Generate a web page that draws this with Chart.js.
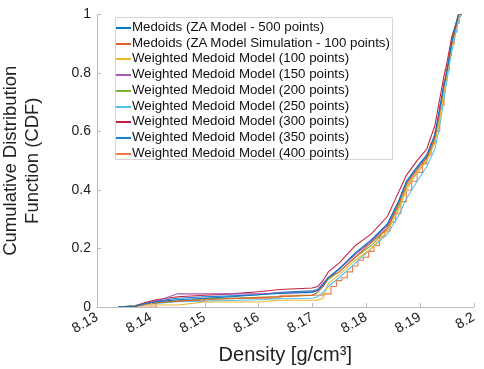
<!DOCTYPE html>
<html>
<head>
<meta charset="utf-8">
<script src="https://cdn.jsdelivr.net/npm/chart.js@4"></script>
<style>
  html, body { margin: 0; padding: 0; background: #fff; }
  #wrap { position: relative; width: 484px; height: 369px; }
  #legend {
    position: absolute; left: 115px; top: 17px; width: 278px; height: 143px;
    border: 1px solid #d6d6d6; background: #fff; box-sizing: border-box;
    font-family: "Liberation Sans", Arial, sans-serif; font-size: 13.3px; color: #111;
  }
  #legend .row { position: absolute; left: 16px; height: 16px; line-height: 16px; white-space: nowrap; }
  #legend .sw { position: absolute; left: 0; width: 15px; height: 2px; }
</style>
</head>
<body>
<div id="wrap">
  <canvas id="grafico-cdf" width="484" height="369"></canvas>
  <div id="legend"></div>
</div>
<script>
// Densidades (eixo x) compartilhadas
const densidade = [8.1339, 8.1370, 8.1390, 8.1410, 8.1450, 8.1500, 8.1550, 8.1600, 8.1640, 8.1700,
  8.1710, 8.1720, 8.1730, 8.1750, 8.1780, 8.1810, 8.1840, 8.1860, 8.1875, 8.1895,
  8.1913, 8.1928, 8.1937, 8.1945, 8.1950, 8.1959, 8.1972, 8.1978];

const medoids500 = [0, 0.003, 0.012, 0.018, 0.025, 0.030, 0.035, 0.042, 0.046, 0.050,
  0.056, 0.075, 0.10, 0.13, 0.185, 0.23, 0.285, 0.36, 0.43, 0.48,
  0.52, 0.59, 0.68, 0.76, 0.80, 0.90, 1, 1];
const medoidsSim100 = [0, 0.002, 0.010, 0.015, 0.020, 0.025, 0.028, 0.032, 0.035, 0.040,
  0.050, 0.070, 0.10, 0.12, 0.17, 0.22, 0.27, 0.35, 0.42, 0.47,
  0.51, 0.58, 0.67, 0.76, 0.81, 0.90, 1, 1];
const weighted100 = [0, 0.005, 0.007, 0.007, 0.007, 0.017, 0.017, 0.017, 0.023, 0.023,
  0.023, 0.030, 0.08, 0.11, 0.16, 0.20, 0.26, 0.33, 0.40, 0.46,
  0.50, 0.56, 0.64, 0.74, 0.79, 0.89, 0.99, 1];
const weighted150 = [0, 0.003, 0.012, 0.020, 0.045, 0.045, 0.045, 0.045, 0.048, 0.052,
  0.058, 0.080, 0.10, 0.13, 0.18, 0.225, 0.28, 0.35, 0.42, 0.47,
  0.51, 0.58, 0.67, 0.76, 0.80, 0.90, 1, 1];
const weighted200 = [0, 0.003, 0.010, 0.015, 0.020, 0.028, 0.030, 0.033, 0.035, 0.040,
  0.050, 0.070, 0.095, 0.12, 0.17, 0.21, 0.27, 0.34, 0.41, 0.46,
  0.50, 0.57, 0.66, 0.75, 0.80, 0.89, 1, 1];
const weighted250 = [0, 0.002, 0.008, 0.012, 0.018, 0.020, 0.022, 0.025, 0.028, 0.030,
  0.035, 0.050, 0.07, 0.10, 0.15, 0.20, 0.25, 0.31, 0.37, 0.43,
  0.48, 0.54, 0.62, 0.71, 0.77, 0.87, 0.98, 1];
const weighted300 = [0, 0.004, 0.015, 0.025, 0.035, 0.040, 0.045, 0.052, 0.060, 0.065,
  0.070, 0.090, 0.12, 0.15, 0.21, 0.25, 0.31, 0.39, 0.45, 0.50,
  0.54, 0.62, 0.71, 0.79, 0.83, 0.92, 1, 1];
const weighted350 = [0, 0.003, 0.012, 0.020, 0.030, 0.035, 0.038, 0.042, 0.050, 0.055,
  0.060, 0.080, 0.10, 0.13, 0.18, 0.225, 0.28, 0.355, 0.425, 0.475,
  0.515, 0.585, 0.675, 0.76, 0.80, 0.90, 1, 1];

// Modelo de 400 pontos tem degraus visiveis, entao tem seu proprio eixo x
const densidade400 = [8.1339, 8.1410, 8.1500, 8.1640, 8.1720, 8.1735, 8.1745, 8.1755, 8.1765, 8.1775,
  8.1785, 8.1795, 8.1805, 8.1815, 8.1825, 8.1835, 8.1845, 8.1855, 8.1865, 8.1875,
  8.1885, 8.1895, 8.1905, 8.1913, 8.1921, 8.1928, 8.1937, 8.1945, 8.1950, 8.1955,
  8.1959, 8.1964, 8.1969, 8.1973, 8.1977];
const weighted400 = [0, 0.020, 0.030, 0.040, 0.045, 0.070, 0.090, 0.10, 0.12, 0.14,
  0.16, 0.17, 0.19, 0.21, 0.24, 0.26, 0.29, 0.32, 0.36, 0.40,
  0.43, 0.46, 0.49, 0.52, 0.56, 0.60, 0.69, 0.77, 0.81, 0.86,
  0.90, 0.94, 0.97, 1, 1];

const xTicks = [8.13, 8.14, 8.15, 8.16, 8.17, 8.18, 8.19, 8.2];
const xTickLabels = ['8.13', '8.14', '8.15', '8.16', '8.17', '8.18', '8.19', '8.2'];
const yTicks = [0, 0.2, 0.4, 0.6, 0.8, 1];
const yTickLabels = ['0', '0.2', '0.4', '0.6', '0.8', '1'];

const series = [
  { label: 'Medoids (ZA Model - 500 points)', x: densidade, y: medoids500, color: '#0b76c4' },
  { label: 'Medoids (ZA Model Simulation - 100 points)', x: densidade, y: medoidsSim100, color: '#e0602a' },
  { label: 'Weighted Medoid Model (100 points)', x: densidade, y: weighted100, color: '#f0b52c' },
  { label: 'Weighted Medoid Model (150 points)', x: densidade, y: weighted150, color: '#a55ab4' },
  { label: 'Weighted Medoid Model (200 points)', x: densidade, y: weighted200, color: '#7cb23a' },
  { label: 'Weighted Medoid Model (250 points)', x: densidade, y: weighted250, color: '#4fc3f0' },
  { label: 'Weighted Medoid Model (300 points)', x: densidade, y: weighted300, color: '#c42040' },
  { label: 'Weighted Medoid Model (350 points)', x: densidade, y: weighted350, color: '#1a82d2' },
  { label: 'Weighted Medoid Model (400 points)', x: densidade400, y: weighted400, color: '#f27848', stepped: 'before' }
];

const fonte = '"Liberation Sans", Arial, sans-serif';

// ticks para dentro, estilo MATLAB
const ticksInternos = {
  id: 'ticksInternos',
  afterDraw(chart) {
    const { ctx, chartArea, scales } = chart;
    ctx.save();
    ctx.strokeStyle = '#bdbdbd';
    ctx.lineWidth = 1;
    ctx.beginPath();
    xTicks.forEach(v => {
      const px = Math.round(scales.x.getPixelForValue(v)) + 0.5;
      ctx.moveTo(px, chartArea.bottom);
      ctx.lineTo(px, chartArea.bottom - 4);
    });
    yTicks.forEach(v => {
      const py = Math.round(scales.y.getPixelForValue(v)) + 0.5;
      ctx.moveTo(chartArea.left, py);
      ctx.lineTo(chartArea.left + 4, py);
    });
    ctx.stroke();
    ctx.restore();
  }
};

function desenharGrafico() {
  const ctx = document.getElementById('grafico-cdf').getContext('2d');
  new Chart(ctx, {
    type: 'line',
    data: {
      datasets: series.map(s => ({
        label: s.label,
        data: s.x.map((v, i) => ({ x: v, y: s.y[i] })),
        borderColor: s.color,
        borderWidth: 1.1,
        pointRadius: 0,
        fill: false,
        tension: 0,
        stepped: s.stepped || false
      }))
    },
    options: {
      responsive: false,
      animation: false,
      layout: { padding: { top: 7, right: 7, left: 0, bottom: 0 } },
      plugins: { legend: { display: false }, tooltip: { enabled: false } },
      scales: {
        x: {
          type: 'linear',
          min: 8.13, max: 8.2,
          afterBuildTicks: sc => { sc.ticks = xTicks.map(v => ({ value: v })); },
          afterFit: sc => { sc.height = 62; },
          ticks: {
            callback: (v, i) => xTickLabels[i],
            minRotation: 30, maxRotation: 30,
            color: '#222', font: { family: fonte, size: 14 }, padding: 2
          },
          grid: { display: false, drawTicks: false },
          border: { color: '#bdbdbd' },
          title: {
            display: true, text: 'Density [g/cm³]',
            color: '#222', font: { family: fonte, size: 20 }, padding: { top: 0, bottom: 2 }
          }
        },
        y: {
          min: 0, max: 1,
          afterBuildTicks: sc => { sc.ticks = yTicks.map(v => ({ value: v })); },
          afterFit: sc => { sc.width = 97; },
          ticks: {
            callback: (v, i) => yTickLabels[i],
            color: '#222', font: { family: fonte, size: 14 }, padding: 6
          },
          grid: { display: false, drawTicks: false },
          border: { color: '#bdbdbd' },
          title: {
            display: true, text: ['Cumulative Distribution', 'Function (CDF)'],
            color: '#222', font: { family: fonte, size: 18.5 }, padding: { top: 0, bottom: 0 }
          }
        }
      }
    },
    plugins: [ticksInternos]
  });
}

function montarLegenda() {
  const div = document.getElementById('legend');
  series.forEach((s, i) => {
    const topo = Math.round(1 + i * 15.7);
    const row = document.createElement('div');
    row.className = 'row';
    row.style.top = topo + 'px';
    row.textContent = s.label;
    const sw = document.createElement('div');
    sw.className = 'sw';
    sw.style.top = (topo + 8) + 'px';
    sw.style.background = s.color;
    div.appendChild(row);
    div.appendChild(sw);
  });
}

desenharGrafico();
montarLegenda();
</script>
</body>
</html>
